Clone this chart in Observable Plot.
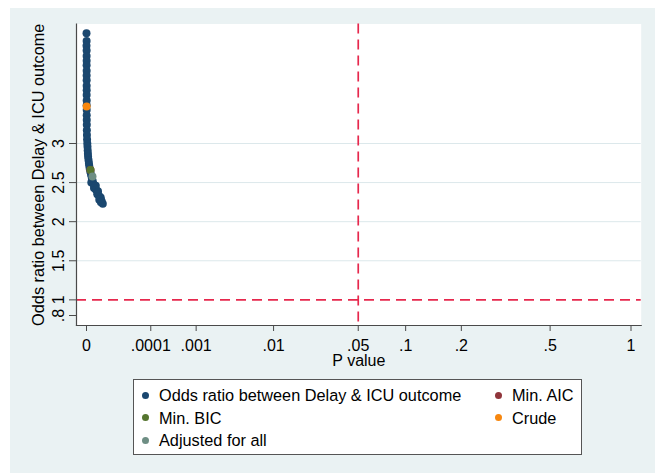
<!DOCTYPE html>
<html>
<head>
<meta charset="utf-8">
<script src="https://cdn.jsdelivr.net/npm/d3@7"></script>
<script src="https://cdn.jsdelivr.net/npm/@observablehq/plot@0.6"></script>
<style>
  html, body { margin: 0; padding: 0; background: #fff; width: 655px; height: 473px; overflow: hidden;
    font-family: "Liberation Sans", Arial, sans-serif; }
  #panel { position: absolute; left: 10px; top: 8px; width: 645px; height: 465px; background: #eaf2f3; }
  #chart { position: absolute; left: 0; top: 0; }
  #legend { position: absolute; left: 133px; top: 379px; width: 447px; height: 74px;
    background: #fff; border: 1px solid #555; }
  .item { position: absolute; font-size: 16.3px; line-height: 20px; color: #000; white-space: nowrap; }
  .sw { position: absolute; width: 7px; height: 7px; border-radius: 50%; }
</style>
</head>
<body>
<div id="panel"></div>
<div id="chart"></div>
<div id="legend"></div>
<script>
// P-value axis ticks (power-transformed axis)
const xTickValues = [0, 0.0001, 0.001, 0.01, 0.05, 0.1, 0.2, 0.5, 1];
const xTickLabels = ["0", ".0001", ".001", ".01", ".05", ".1", ".2", ".5", "1"];

// Odds-ratio axis ticks and grid
const yTickValues = [0.8, 1, 1.5, 2, 2.5, 3];
const yTickLabels = [".8", "1", "1.5", "2", "2.5", "3"];
const yGridValues = [1.5, 2, 2.5, 3];

// Reference lines: null odds ratio and significance threshold
const nullOddsRatio = 1;
const alphaLevel = 0.05;

// Odds ratio and p value of every model specification
const specOddsRatio = [
  4.41, 4.31, 4.25, 4.19, 4.12, 4.06, 4.00, 3.93, 3.87, 3.81,
  3.74, 3.68, 3.62, 3.55, 3.49, 3.43, 3.36, 3.30, 3.24, 3.17,
  3.11, 3.05, 3.00, 2.96, 2.91, 2.87, 2.83, 2.79, 2.75, 2.72,
  2.68, 2.64, 2.60, 2.56, 2.52, 2.50, 2.48, 2.46, 2.45, 2.43,
  2.41, 2.39, 2.37, 2.35, 2.33, 2.31, 2.29, 2.28, 2.26, 2.25,
  2.23
];
const specPValue = [
  0, 1e-16, 0, 2e-16, 1e-16, 3e-16, 1e-16, 5e-16, 2e-16, 6e-16,
  4e-16, 9e-16, 5e-16, 1.2e-15, 8e-16, 2e-15, 1.5e-15, 4e-15, 8e-15, 1.5e-14,
  4e-14, 1.5e-13, 6.2e-13, 1.6e-12, 3.5e-12, 6.9e-12, 1.2e-11, 3.2e-11, 7e-11, 1.16e-10,
  2.4e-10, 5.1e-10, 1.05e-9, 2.1e-9, 4.2e-9, 1.4e-9, 8e-9, 2.4e-8, 1.4e-8, 9.5e-9,
  2.6e-8, 6.0e-8, 5e-8, 4.6e-8, 8.9e-8, 1.5e-7, 1.4e-7, 9.5e-8, 2.0e-7, 1.6e-7,
  2.7e-7
];

// Highlighted models (drawn in this order, on top of the specifications)
const modelNames = ["Min. AIC", "Min. BIC", "Crude", "Adjusted for all"];
const modelOddsRatio = [2.661, 2.661, 3.473, 2.578];
const modelPValue = [6.3e-10, 6.3e-10, 1e-16, 3.6e-9];

// Legend entries and colours
const seriesNames = ["Odds ratio between Delay & ICU outcome", ...modelNames];
const seriesColors = ["#1a476f", "#90353b", "#55752f", "#f7870f", "#6e8e84"];

const specs = specOddsRatio.map((or, i) => ({or, p: specPValue[i]}));
const models = modelNames.map((name, i) => ({name, or: modelOddsRatio[i], p: modelPValue[i], color: seriesColors[i + 1]}));
const xLabelOf = new Map(xTickValues.map((v, i) => [v, xTickLabels[i]]));

const axisColor = "#4a4a4a";
const refColor = "#e6284d";
const font = "'Liberation Sans', Arial, sans-serif";

const chart = Plot.plot({
  width: 655,
  height: 370,
  marginLeft: 76,
  marginRight: 14.3,
  marginTop: 23.5,
  marginBottom: 45,
  style: {background: "transparent", fontFamily: font, fontSize: "16px", color: "#000", overflow: "visible"},
  x: {type: "pow", exponent: 0.232, domain: [0, 1], range: [86, 630.5]},
  y: {type: "linear", domain: [0.8, 3], range: [315, 143]},
  marks: [
    Plot.frame({fill: "white", stroke: "none"}),
    Plot.ruleY(yGridValues, {stroke: "#dce8eb", strokeWidth: 1}),
    Plot.ruleY([nullOddsRatio], {stroke: refColor, strokeWidth: 1.7, strokeDasharray: "10,6"}),
    Plot.ruleX([alphaLevel], {stroke: refColor, strokeWidth: 1.7, strokeDasharray: "10,6"}),
    Plot.dot(specs, {x: "p", y: "or", r: 4, fill: seriesColors[0], stroke: null}),
    Plot.dot(models, {x: "p", y: "or", r: 4, fill: d => d.color, stroke: null}),
    Plot.frame({anchor: "left", stroke: axisColor, strokeWidth: 1.2}),
    Plot.frame({anchor: "bottom", stroke: axisColor, strokeWidth: 1.2}),
    Plot.axisX(xTickValues, {tickSize: 6, tickPadding: 8, tickFormat: d => xLabelOf.get(d), stroke: axisColor, label: null, fontSize: 16}),
    Plot.axisY(yTickValues, {tickSize: 7, tickFormat: () => "", stroke: axisColor, label: null}),
    Plot.text(yTickValues, {y: d => d, text: (d, i) => yTickLabels[i], frameAnchor: "left", dx: -17.7, rotate: -90,
      textAnchor: "middle", lineAnchor: "middle", fontSize: 16, fill: "#000"}),
    Plot.text(["Odds ratio between Delay & ICU outcome"], {frameAnchor: "left", dx: -37.7, rotate: -90,
      textAnchor: "middle", lineAnchor: "middle", fontSize: 16.3, fill: "#000"}),
    Plot.text(["P value"], {frameAnchor: "bottom", dy: 35.5, textAnchor: "middle", lineAnchor: "middle", fontSize: 16, fill: "#000"})
  ]
});
document.getElementById("chart").appendChild(chart);

// Legend: two columns, filled row by row
const legend = document.getElementById("legend");
const colText = [25, 378];
const colDot = [11, 364.5];
const rowMid = [15.3, 37.7, 60.3];
seriesNames.forEach((name, i) => {
  const col = i % 2, row = Math.floor(i / 2);
  const sw = document.createElement("div");
  sw.className = "sw";
  sw.style.background = seriesColors[i];
  sw.style.left = (colDot[col] - 3.5) + "px";
  sw.style.top = (rowMid[row] - 3.5) + "px";
  legend.appendChild(sw);
  const t = document.createElement("div");
  t.className = "item";
  t.textContent = name;
  t.style.left = colText[col] + "px";
  t.style.top = (rowMid[row] - 10) + "px";
  legend.appendChild(t);
});
</script>
</body>
</html>
